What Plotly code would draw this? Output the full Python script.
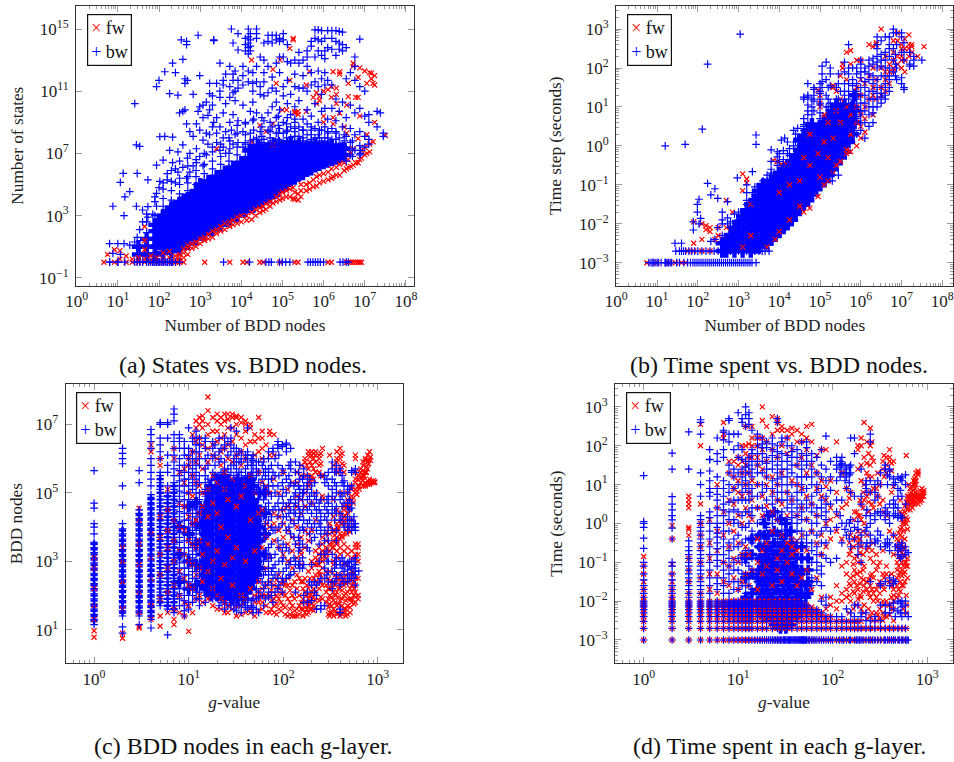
import plotly.graph_objects as go

W, H = 954, 762
RED, BLUE = "#ff0000", "#0000ff"
FONT = "Liberation Serif"

# All values below are read off the picture. Panel a and b values are log10 on both axes,
# panels c and d have the g-value on x and log10 on y. Format: (x, [y, y, ...]).

A_FW = [(0.66,[0]),(0.75,[0.5]),(0.92,[0,0.8]),(1.05,[0.2,0.75]),(1.2,[0,0.4]),(1.35,[0,0.2]),(1.5,[0,0.1,0.3]),(1.65,[0,0.2,0.8,1.4,2.3]),
(1.8,[0,0.15,0.4]),(1.95,[0,0.1,0.3]),(2.1,[0,0.2,0.6]),(2.25,[0,0.3,0.7]),(2.4,[0,0.15,0.4]),(2.5,[0,0.1,0.3,0.5]),(2.6,[0,0.3,0.6,0.85]),
(2.7,[0.5,0.9,1.1]),(2.8,[0.9,1.2]),(2.9,[1,1.3]),(3.0,[1.2,1.5]),(3.11,[0,1.4,1.6]),(3.2,[1.5,1.8]),(3.3,[1.6,2]),(3.4,[1.85,2.1,7.3]),(3.5,[2.0,2.3]),
(3.6,[2.1,2.5]),(3.72,[0,2.3,2.6]),(3.8,[2.4,2.7]),(3.9,[2.5,2.9]),(4.0,[2.6,3.0]),(4.04,[0]),(4.13,[0,2.7,3.0]),(4.25,[2.75,3.2,7.75,13]),(4.35,[3.0,3.4]),(4.45,[0,3.2,3.5,8.8]),
(4.53,[0,3.3,3.6]),(4.6,[3.4,3.75,8.4]),(4.7,[3.6,3.9]),(4.77,[3.8,7.55,8.9,12.4]),(4.85,[3.9,4.2,11.5]),(4.94,[0,4.0,4.4,13]),(5.0,[4.1,4.5,9.8]),(5.1,[4.2,4.6,9.8]),(5.18,[4.2,4.7,11.7,13.75]),
(5.26,[4.1,4.8,14.3,14.4]),(5.3,[0,4.05,4.5,9.6,9.7]),(5.38,[0,4.0,4.4,9.5,9.7]),(5.45,[4.2,4.6,5.0]),(5.58,[4.6,5.0,9.7,11.4]),(5.66,[4.7,5.1,12.25]),(5.75,[4.85,5.3,10.6]),(5.83,[4.9,5.5,10.2,10.9]),
(5.9,[5.1,5.6,10.65,10.4]),(6.0,[5.2,5.7,9.0,9.4,11]),(6.11,[0,5.3,5.8,11.1]),(6.19,[0,5.4,6.0,11.3,10.6]),(6.23,[5.5,12.25,8.9,9.3]),(6.31,[5.6,6.1,10.2,10.8,11.2]),(6.39,[5.6,6.3,12.25,12.1,9.6]),
(6.5,[5.9,6.4,8.7]),(6.56,[0,6.0,8.3,10.1]),(6.6,[0,6.1,6.6,10.65,11.5]),(6.66,[0,6.15,7.0]),(6.72,[0,6.25,7.3,12.8,12.6]),(6.78,[0,6.4,10.6]),(6.84,[0,6.4,7.95,10.6,11.9]),(6.88,[0,6.6,12.5,9.4]),
(6.92,[0,6.7,7.2]),(7.0,[6.9,7.4,12.3]),(7.05,[7.0,8.2,11.5]),(7.12,[7.1,7.6,12.2]),(7.16,[12.15,11.8]),(7.2,[7.75,11.5]),(7.24,[11.4,12.0,9.0]),(7.5,[8.15])]

A_BW = [(0.8,[0,1.2]),(0.88,[0.57,3.6]),(1.0,[0,1.2]),(1.06,[5.14,0.5]),(1.13,[5.72]),(1.15,[3.0,1.2]),(1.17,[4.2,0]),(1.29,[4.54,1.1]),(1.41,[10.2,0,1.3]),(1.45,[7.55,3.6]),(1.47,[5.72,1.6,0]),
(1.53,[7.45,2.1,0]),(1.6,[3.36,0,2.6]),(1.73,[3.57,5.3,2.9]),(1.85,[3.1,0]),(1.94,[6.25,4.43,3.6,0,11.3]),(2.0,[11.7,0,4.8]),(2.02,[8.07,5.2]),(2.1,[6.57,4.7,0]),(2.14,[8.1,12.25]),(2.2,[5.3,0,5.7]),(2.26,[10.85,7.2,0]),
(2.33,[12.8,8.05,6.4,0]),(2.4,[6.0,5.1,0,12.2]),(2.46,[10.75,5.8,7.1]),(2.5,[9.6,0,6.5]),(2.54,[14.3]),(2.58,[13.05,7.55,6.1,9.7]),(2.63,[9.8,11.8,11.5]),(2.67,[14.2,8.9,5.4,14.0]),(2.69,[11.7,6.7]),(2.75,[8.4,7.0,5.8]),
(2.83,[8.1,6.2,10.8]),(2.91,[8.9,7.3,6.4]),(2.95,[14.6,9.7]),(2.99,[12,10,8.5,6.8]),(3.07,[7.85,9.3,6.2,10.1]),(3.15,[8.3,6.9,10.3]),(3.19,[9.45,7.6]),(3.23,[11.5,10.85,8.2,9.8]),(3.3,[7.1,8.7,10.1,10.7]),(3.33,[14.25,14.3,9.0]),
(3.4,[11.5,7.7,8.3,9.3]),(3.48,[12.8,8.7,7.2,10.6,11.0]),(3.56,[11.7,11.4,8.0,9.6,7.4]),(3.62,[8.4,7.0,12.1,10.2]),(3.72,[12.6,9.0,7.8,11.3,7.3,10.6]),(3.76,[15,8.5]),(3.8,[14.1,11.7,9.5,7.6,10.9,12.1]),(3.85,[12.3,8.2,10.4,11.0]),
(3.92,[14.7,13.65,9.1,7.7,11.7,11.2]),(4.04,[12.6,8.4,7.4,10.1,11.4,12.0]),(4.1,[13.6,14.0,14.4,9.0,7.7]),(4.17,[15,14.5,14.1,13.8,12.3,13.4,11.6]),(4.22,[14.7,14.3,13.9,13.6,8.3,9.7,7.8]),(4.28,[12.2,11.5,9.1,10.3,11.0]),(4.37,[15,14.4,14.7,12.6,11.6,8.0,9.6]),(4.46,[11.3,13.2,10.8,8.4,7.6]),
(4.55,[14.1,13.0,11.6,12.2,9.1,10.7,7.9]),(4.65,[14.6,14.2,12.6,10.9,8.5,9.6,7.6]),(4.75,[14.6,14.1,11.2,11.9,8.7,10.0,7.8]),(4.85,[14.6,14.3,12.8,11.0,9.3,8.3,10.3,7.6]),(4.93,[14.4,14.2,12.2,13.2,8.6,9.8,7.8]),(5.02,[14.7,14.3,13.2,11.3,8.3,9.0,10.7,7.7]),
(5.12,[14.0,12.9,11.7,9.3,8.5,7.8,10.2]),(5.2,[12.8,10.8,8.7,8.0,9.5]),(5.3,[13.0,11.3,8.4,9.0,7.7,12.1,10.0]),(5.4,[12.8,13.5,11.2,8.7,8.1,10.4]),(5.5,[13.0,12.0,9.2,8.5,7.8,11.2]),(5.6,[13.6,13.2,12.6,11.0,8.9,8.2,9.8,7.7]),
(5.7,[14.2,13.9,11.4,8.5,9.4,7.9,12.2]),(5.79,[14.95,14.4,13.2,11.6,8.6,8.0,10.2]),(5.87,[14.95,14.3,13.6,12.3,11.3,9.0,8.2,7.6]),(5.95,[14.9,14.2,13.3,11.8,8.5,9.7,7.8,10.8]),(6.03,[14.4,13.6,13.1,12.2,11.4,8.7,8.0,7.4,9.9]),(6.1,[14.9,13.8,11.7,9.2,8.3,7.6,7.1]),
(6.2,[14.9,14.4,13.7,11.4,8.6,9.9,7.9,7.0]),(6.3,[14.9,14.2,13.3,10.5,8.4,9.1,7.6,7.2]),(6.38,[14.85,14.1,13.7,9.7,8.0,7.1,6.7]),(6.46,[14.8,14.0,13.6,10.3,8.7,7.5,6.9]),(6.55,[13.8,11.8,9.3,8.1,7.4,6.5]),(6.65,[12.2,10.1,8.6,7.7,6.9]),
(6.76,[13.2,12.6,11.7,9.6,8.2,7.2]),(6.88,[14.35,11.3,9.9,8.4,7.5,6.9]),(7.0,[11.0,9.4,8.1,7.4]),(7.1,[9.5,9.0,7.9,7.6]),(7.3,[9.7,8.7]),(7.38,[9.6]),(7.45,[8.3,8.1])]

A_BW_2 = [(1.7,[2.6,3.1,1.9]),(1.9,[3.0,3.9,4.2]),(2.1,[3.6,4.1,5.1]),(2.3,[4.0,4.6,5.2,5.9]),(2.5,[4.4,5.0,5.4]),(2.7,[4.6,5.1,5.5,6.2]),(2.9,[5.0,5.5,5.9,6.6]),(3.1,[5.3,5.7,6.3,7.0]),(3.3,[5.5,6.0,6.5,7.4]),(3.5,[5.8,6.3,6.8,7.6]),(3.7,[6.1,6.5,7.0,8.0]),
(3.9,[6.4,6.9,7.4,8.3,8.8]),(4.1,[6.7,7.1,7.6,8.2,8.9]),(4.3,[7.0,7.4,7.9,8.5,9.2]),(4.5,[7.3,7.7,8.1,8.7,9.3]),(4.7,[7.5,8.0,8.4,9.0]),(4.9,[7.5,7.9,8.3,8.8,9.4]),(5.1,[7.6,8.0,8.4,8.9]),(5.3,[7.6,8.1,8.6,9.2]),(5.5,[7.6,8.0,8.5]),(5.7,[7.7,8.2,8.7]),(5.9,[7.6,8.0,8.5]),(6.1,[7.6,8.0,8.4]),(6.3,[7.5,7.9,8.3]),(6.5,[7.4,7.8,8.2]),(6.7,[6.8,7.3,7.8]),(6.9,[7.0,7.2])]

A_BW_ROW = [0.8,1.0,1.6,1.7,1.75,1.8,1.85,1.9,1.95,2.0,2.05,2.1,2.15,2.2,2.25,2.3,3.57,4.2,4.6,4.67,4.73,4.93,5.0,5.08,5.18,5.62,5.68,5.74,5.8,5.86,5.92,6.0,6.4,6.47,6.55,6.6]

A_BW_CORE = [(1.5,[0.5,1.0]),(1.7,[0.5,1.0,1.5]),(1.9,[0.5,1.0,1.5,2.0,2.4]),(2.1,[0.6,1.0,1.5,2.0,2.5,3.0]),(2.3,[0.7,1.1,1.5,2.0,2.5,3.0,3.5]),(2.5,[0.9,1.4,1.9,2.4,2.9,3.4,3.8]),
(2.7,[1.2,1.7,2.2,2.7,3.2,3.7,4.1]),(2.9,[1.5,2.0,2.5,3.0,3.5,4.0,4.5]),(3.1,[1.8,2.3,2.8,3.3,3.8,4.3,4.8]),(3.3,[2.1,2.6,3.1,3.6,4.1,4.6,5.0]),(3.5,[2.4,2.9,3.4,3.9,4.4,4.9,5.4]),(3.7,[2.7,3.2,3.7,4.2,4.7,5.2,5.7]),
(3.9,[3.0,3.5,4.0,4.5,5.0,5.5,6.0]),(4.1,[3.3,3.8,4.3,4.8,5.3,5.8,6.3]),(4.3,[3.6,4.1,4.6,5.1,5.6,6.1,6.6]),(4.5,[3.9,4.4,4.9,5.4,5.9,6.4,6.9]),(4.7,[4.2,4.7,5.2,5.7,6.2,6.7,7.1]),(4.9,[4.6,5.1,5.6,6.1,6.6,7.1]),
(5.1,[5.0,5.5,6.0,6.5,7.0,7.3]),(5.3,[5.4,5.9,6.4,6.9,7.3]),(5.5,[5.7,6.2,6.7,7.2]),(5.7,[6.0,6.5,7.0,7.4]),(5.9,[6.3,6.8,7.3]),(6.1,[6.5,7.0,7.4]),(6.3,[6.7,7.2]),(6.5,[6.9,7.3])]

A_BW_CORE_2 = [(2.0,[1.2,1.7,2.2,2.7]),(2.2,[1.2,1.7,2.2,2.7,3.2]),(2.4,[1.2,1.7,2.2,2.7,3.2,3.6]),(2.6,[1.5,2.0,2.5,3.0,3.5,4.0]),(2.8,[1.8,2.3,2.8,3.3,3.8,4.3]),(3.0,[2.0,2.5,3.0,3.5,4.0,4.5,5.0]),(3.2,[2.2,2.7,3.2,3.7,4.2,4.7,5.2]),(3.4,[2.5,3.0,3.5,4.0,4.5,5.0,5.5]),(3.6,[2.8,3.3,3.8,4.3,4.8,5.3,5.8]),(3.8,[3.1,3.6,4.1,4.6,5.1,5.6,6.1]),(4.0,[3.4,3.9,4.4,4.9,5.4,5.9,6.4]),(4.2,[3.7,4.2,4.7,5.2,5.7,6.2,6.7,7.2]),
(4.4,[4.0,4.5,5.0,5.5,6.0,6.5,7.0,7.5]),(4.6,[4.3,4.8,5.3,5.8,6.3,6.8,7.3]),(4.8,[4.6,5.1,5.6,6.1,6.6,7.1,7.6]),(5.0,[4.9,5.4,5.9,6.4,6.9,7.4]),(5.2,[5.3,5.8,6.3,6.8,7.3,7.7]),(5.4,[5.6,6.1,6.6,7.1,7.6]),(5.6,[5.9,6.4,6.9,7.4]),(5.8,[6.2,6.7,7.2,7.6]),(6.0,[6.4,6.9,7.4]),(6.2,[6.6,7.1,7.5]),(6.4,[6.8,7.3])]

B_FW = [(0.75,[-3]),(1.0,[-3]),(1.3,[-3]),(1.45,[-3]),(1.6,[-3]),(1.7,[-3]),(1.76,[-2.7]),(1.9,[-2.7,-2.5,-1.95]),(2.1,[-2.7,-2.4,-2.0]),(2.2,[-2.15,-2.05]),(2.3,[-2.7,-2.2,-2.1]),(2.42,[-2.4]),(2.5,[-2.3,-2.1]),(2.7,[-1.4,-2.1]),(2.85,[-1.7]),
(3.1,[-0.72,-1.15,-2.6]),(3.2,[-0.95,-0.85]),(3.3,[-1.5,-2.3]),(3.7,[-2.6]),(3.9,[-2.4]),(4.0,[-2.2,-1.2]),(3.85,[-0.37]),(3.95,[-0.4]),(4.05,[-0.47]),(4.17,[-0.47]),(4.25,[-1.9,-1.0]),(4.5,[-1.55,-0.9]),(4.6,[-1.7,-0.3]),(4.75,[-1.6,0.3,-0.5]),(4.95,[-1.3,-0.2,1.43]),
(5.0,[1.3,1.1,1.0,-0.8]),(5.1,[-1.0,0.1,0.8]),(5.2,[-0.9,-0.3,0.6]),(5.32,[1.5,1.55,-0.7,0.2]),(5.4,[1.4,-0.5,0.9]),(5.5,[-0.4,0.6,1.2,1.8]),(5.55,[2.1,2.0]),(5.65,[-0.2,-0.1,1.0,2.4,1.7]),(5.75,[-0.15,0.3,0.8,2.45,2.1]),(5.9,[0.0,0.6,1.5,2.2,1.0]),(6.0,[0.2,1.3,0.5,2.2,1.7,0.8]),
(6.1,[0.35,1.0,1.6,0.7]),(6.2,[2.6,1.8,1.2]),(6.3,[2.55,0.8,1.5,2.0,1.3]),(6.38,[2.6,2.65,1.2,1.7]),(6.5,[3.0,2.0,1.3,1.5]),(6.6,[1.4,1.7,2.3,1.9]),(6.7,[1.6,1.9,2.1]),(6.8,[2.2,2.4,2.0,1.9,2.7]),(6.9,[2.1,2.7,2.9,2.3]),(7.0,[2.3,2.5,2.6,2.2,2.0]),(7.08,[2.5,2.2,1.9,2.75]),
(7.18,[2.85,2.5,2.3,2.6]),(7.25,[2.6,2.4,2.55]),(7.55,[2.55]),(7.4,[2.3])]

B_BW = [(0.8,[-3]),(0.9,[-3]),(1.0,[-3]),(1.2,[0.0,-3]),(1.69,[0.04]),(2.11,[0.43]),(2.24,[2.1,-0.96]),(3.04,[2.87]),(3.43,[0.28,0.04]),(2.97,[-0.82]),(3.34,[-0.66,-1.2,-1.4]),(2.42,[-1.1,-2.4]),(2.32,[-1.26,-2.45]),(2.49,[-1.35,-2.1]),(2.73,[-1.43,-1.85,-2.0]),
(2.03,[-1.37,-2.0]),(1.99,[-1.5,-1.7]),(2.07,[-1.86]),(1.89,[-1.95,-2.16]),(1.44,[-2.5]),(1.6,[-2.5,-2.7]),(1.46,[-2.7]),(1.65,[-2.7]),(1.78,[-2.7]),(1.92,[-2.7]),(2.6,[-2.0,-2.3,-1.9,-1.7]),(2.9,[-1.75,-2.2]),(3.2,[-1.0,-1.5]),(3.4,[-1.05,-1.5,-1.25]),(3.55,[-1.1,-1.3]),
(3.7,[-1.0,-0.9,-0.75]),(3.8,[-0.1,-0.4,-0.7]),(3.95,[-0.15,-0.28,-0.5]),(4.1,[-0.12,-0.5,-0.35]),(4.05,[0.15]),(4.13,[0.2]),(4.25,[-0.07,-0.25]),(4.35,[0.4,0.0,-0.3]),(4.45,[0.45,0.2,-0.1]),(4.6,[0.55,1.2,1.25,0.4]),(4.7,[1.25,1.3,0.8,1.05,0.9,1.6,0.6]),(4.85,[1.3,1.45,1.5,0.9,1.15]),(5.0,[1.6,1.05,0.7,1.35,1.2]),
(5.05,[2.05,1.85,1.65,1.5]),(5.15,[1.7,1.3,2.15,1.0]),(5.25,[1.55,1.85,1.1,2.0]),(5.3,[-0.75,-0.9]),(5.45,[1.85,1.6,1.2,-0.75]),(5.6,[2.15,1.6,1.9,1.4,0.1]),(5.7,[1.85,2.0,2.6,1.2,0.6]),(5.8,[2.0,1.55,1.3,0.9,0.4]),(5.9,[1.85,1.4,1.0,0.3,0.7]),(6.0,[2.2,1.5,1.9,1.1,0.9,0.4]),
(6.1,[2.0,1.3,1.65,0.9,0.2]),(6.2,[1.7,2.2,1.2,0.8,0.5]),(6.3,[2.25,1.8,1.4,1.0,0.6]),(6.4,[1.5,2.3,2.0,1.2,2.8,2.6,2.5]),(6.5,[2.7,2.2,1.8,1.1,1.35]),(6.6,[2.8,2.4,2.0,1.5,1.3]),(6.7,[1.7,2.3,2.8,2.5,1.4]),(6.8,[3.0,2.9,2.5,1.9,2.2]),(6.88,[2.9,2.6,2.0,1.7]),(7.0,[2.8,2.9,2.4,1.75,1.6]),
(7.06,[2.65,2.2,2.4,1.5,1.45]),(7.2,[2.4,2.05,2.1]),(7.3,[2.2,2.3,2.05]),(7.5,[2.2])]

B_BW_2 = [(2.8,[-2.3,-2.1,-1.95]),(3.0,[-2.0,-1.9,-1.7]),(3.2,[-1.7,-1.4,-1.2]),(3.4,[-1.6,-1.3]),(3.6,[-1.2,-0.9]),(3.8,[-0.9,-0.6]),(4.0,[-0.7,-0.4,-0.2]),(4.2,[-0.5,-0.2,0.1]),(4.4,[-0.2,0.1,0.3]),(4.6,[0.2,0.5,0.7]),(4.8,[0.5,0.8,1.0,1.2]),(5.0,[0.5,0.85,1.1,1.4]),(5.2,[0.7,1.0,1.2,1.5]),
(5.4,[0.6,0.9,1.2,1.5]),(5.5,[0.1,0.5,1.1,1.4]),(5.6,[0.3,0.7,1.05,1.3]),(5.7,[0.4,0.9,1.4,1.6]),(5.8,[0.65,1.1,1.7]),(5.9,[0.75,1.2,1.6,2.0]),(6.0,[0.6,0.8,1.3,1.75,2.1]),(6.1,[0.6,1.1,1.5,1.9]),(6.2,[1.0,1.4,1.85,2.05]),(6.3,[0.85,1.2,1.6,2.1]),(6.4,[1.0,1.35,1.7,2.15]),(6.5,[1.25,1.5,2.05,2.35]),(6.6,[1.2,1.6,1.8,2.2]),(6.7,[1.5,1.8,2.0,2.6]),(6.85,[1.8,2.1,2.35])]

B_BW_ROW_3 = [0.85,0.9,0.95,1.03,1.1,1.2,1.24,1.28,1.32,1.36,1.48,1.55,1.66,1.75,1.82,1.88,1.93,1.98,2.03,2.08,2.13,2.18,2.23,2.28,2.33,2.38,2.43,2.48,2.53,2.58,2.63,2.68,2.73,2.78,2.83,2.88,2.93,2.98,3.03,3.08,3.13,3.18,3.23,3.28,3.33,3.43]
B_BW_ROW_27 = [1.55,1.7,1.85,2.0,2.1,2.2,2.3,2.4,2.5,2.6,2.7,2.8,2.9,3.0,3.1,3.2,3.3,3.4,3.5,3.58,3.65,3.75]

B_BW_CORE = [(2.7,[-2.7,-2.4]),(2.9,[-2.7,-2.4,-2.1]),(3.1,[-2.7,-2.4,-2.1,-1.8]),(3.3,[-2.7,-2.4,-2.1,-1.8,-1.5]),(3.5,[-2.6,-2.3,-2.0,-1.7,-1.4,-1.15]),(3.7,[-2.5,-2.2,-1.9,-1.6,-1.3,-1.05]),(3.9,[-2.3,-2.0,-1.7,-1.4,-1.1,-0.8]),(4.1,[-2.1,-1.8,-1.5,-1.2,-0.9,-0.6]),
(4.3,[-1.9,-1.6,-1.3,-1.0,-0.7,-0.4]),(4.5,[-1.6,-1.3,-1.0,-0.7,-0.4,-0.1,0.15]),(4.7,[-1.4,-1.1,-0.8,-0.5,-0.2,0.1,0.4]),(4.9,[-1.1,-0.8,-0.5,-0.2,0.1,0.4]),(5.1,[-0.9,-0.6,-0.3,0,0.3,0.6]),(5.3,[-0.6,-0.3,0,0.3,0.6,0.9]),(5.5,[-0.3,0,0.3,0.6,0.9]),(5.7,[0.1,0.4,0.8]),(5.85,[0.6,0.9,1.3])]

B_BW_CORE_2 = [(2.6,[-2.7,-2.5]),(2.8,[-2.6,-2.3]),(3.0,[-2.55,-2.25,-1.95]),(3.2,[-2.55,-2.25,-1.95,-1.65]),(3.4,[-2.6,-2.3,-2.0,-1.7,-1.4]),(3.6,[-2.45,-2.15,-1.85,-1.55,-1.25,-1.0]),(3.8,[-2.4,-2.1,-1.8,-1.5,-1.2,-0.9]),(4.0,[-2.2,-1.9,-1.6,-1.3,-1.0,-0.7]),(4.2,[-2.0,-1.7,-1.4,-1.1,-0.8,-0.5]),(4.4,[-1.75,-1.45,-1.15,-0.85,-0.55,-0.25]),(4.6,[-1.5,-1.2,-0.9,-0.6,-0.3,0,0.25]),(4.8,[-1.25,-0.95,-0.65,-0.35,-0.05,0.25,0.55]),(5.0,[-1.0,-0.7,-0.4,-0.1,0.2,0.5]),(5.2,[-0.75,-0.45,-0.15,0.15,0.45,0.75]),(5.4,[-0.45,-0.15,0.15,0.45,0.75,1.05]),(5.6,[-0.15,0.15,0.45,0.75,1.05]),(5.8,[0.3,0.6,1.0])]

LOW = [-3,-2.7,-2.52,-2.4,-2.3,-2.22,-2.15,-2.1,-2.05,-2]

C_FW = [(1,[0.78,0.97,1.3,1.7,2.2,2.8,3.1]),(2,[0.75,0.9,1.6,2.4,3.0,3.4]),(3,[1.05,1.1,1.5,2.1,2.9,3.5,4.2,4.55]),(4,[1.3,1.7,2.5,3.1,3.8,6.2,6.4]),(5,[1.1,1.4,1.9,2.6,3.2,3.7,4.3,5.8,6.0]),(6,[1.5,2.1,2.8,3.4,3.9,4.5,5.1]),(7,[1.15,1.3,1.6,2.3,3.0,3.6,4.2,6.0,6.3]),
(8,[1.5,2.0,2.7,3.3,4.0,4.7,5.6]),(9,[1.4,1.8,2.5,3.2,3.9,4.6,5.3,5.7]),(10,[0.95,1.7,2.3,3.0,3.6,4.3,5.0,5.8,6.0]),(11,[1.5,2.2,2.9,3.5,4.1,4.9,5.5,6.2,6.7]),(12,[1.9,2.6,3.4,4.2,5.3,5.9,6.5,6.9,7.1]),(13,[2.0,2.8,3.6,4.4,5.2,6.1,6.6,7.0,7.2]),(14,[1.8,2.4,3.2,4.6,5.0,5.7,6.4,6.9,7.1,7.25]),
(16,[1.9,2.7,3.5,4.3,5.1,5.9,6.3,6.7,7.0,7.4,7.8]),(18,[1.7,2.2,3.0,4.7,5.5,6.1,6.4,6.8,7.2]),(20,[1.6,2.0,3.3,4.4,5.3,6.0,6.5,6.8,7.1,7.3]),(22,[1.6,1.9,2.5,4.0,5.8,6.2,6.6,7.0,7.2]),(24,[1.5,1.8,2.9,5.1,5.6,6.3,6.7,7.1,7.3]),(26,[1.5,1.7,3.7,4.8,6.0,6.4,6.9,7.15,7.3]),
(29,[1.6,2.3,3.1,5.4,5.9,6.5,6.9,7.2,7.3]),(32,[1.4,1.7,3.4,4.6,6.1,6.7,7.0,7.2,7.25]),(36,[1.45,1.7,2.0,4.9,5.8,6.2,6.6,7.05,7.2]),(40,[1.5,1.9,3.0,5.2,6.0,6.4,6.8,7.0,7.1]),(45,[1.5,1.6,2.2,4.2,5.5,6.5,6.9,7.0]),(50,[1.4,1.8,2.0,3.3,5.0,6.1,6.5,6.7]),(55,[1.55,1.8,2.1,1.95,2.4,4.4,5.6,6.2,6.6,7.2]),
(60,[1.6,1.8,2.0,2.2,3.4,4.5,5.3,6.0,6.3,6.6,6.8]),(66,[1.5,1.7,2.0,2.3,2.8,3.7,4.1,5.2,6.4]),(72,[1.5,2.0,2.4,3.1,4.0,5.0,6.1,6.7,6.8]),(80,[1.5,1.7,1.9,2.3,3.6,4.1,4.4,5.4,6.1,6.7]),(90,[1.6,1.9,2.2,2.6,3.4,3.9,4.3,5.0]),(100,[1.7,2.1,2.4,3.2,3.7,4.1,4.5,5.6]),(112,[1.4,1.9,2.3,2.5,3.0,3.5,3.9,4.6,5.1]),
(125,[1.4,1.7,2.0,2.3,2.8,3.3,3.7,4.2,5.3]),(140,[1.4,1.6,2.2,2.6,3.1,3.5,4.0,4.6,4.9,5.3,5.6]),(155,[1.6,1.8,2.4,2.9,3.2,3.3,3.7,4.4,4.8,5.5,5.8]),(170,[1.5,1.65,2.1,2.5,3.4,3.9,4.6,5.0,5.9,6.0]),(185,[1.5,1.7,1.9,2.2,2.7,3.6,3.8,5.2,5.7,6.1,6.2]),(200,[1.6,1.75,1.9,2.1,2.8,3.0,3.9,4.7,5.5,5.8,6.1,6.2,5.4]),
(220,[1.65,1.85,2.1,2.4,2.6,2.9,3.1,3.3,4.2,5.0,5.6,5.9,6.1,6.2]),(240,[1.85,2.2,2.6,2.7,2.9,3.2,3.4,5.6,5.8,6.0,6.1]),(260,[1.9,2.3,2.8,3.0,3.3,3.5,3.7,4.8,4.9,6.3,5.5]),(285,[1.8,2.1,2.3,2.7,3.1,3.4,3.6,3.8]),(310,[1.4,1.5,1.75,2.0,2.2,2.4,2.7,3.3,3.5,3.8,4.0,4.1,6.1]),(340,[1.4,1.6,1.85,2.1,2.4,2.9,3.0,3.4,3.6,3.9,4.3,4.8,5.8]),
(370,[1.45,1.7,2.1,2.5,3.1,3.3,3.5,3.7,3.9,4.1,4.5,5.6,5.9,6.0,6.2]),(400,[1.4,1.85,2.3,2.6,3.2,3.4,3.65,3.8,4.4,5.0,5.7,6.0,6.3,6.1]),(440,[1.5,1.6,2.0,2.3,2.5,2.9,3.3,3.5,3.8,4.1,4.3,4.5,4.6,5.6,5.8]),(480,[1.45,1.7,1.9,2.1,2.4,2.9,3.2,3.4,4.4,4.6,4.8,5.0]),(530,[1.8,1.9,2.1,2.3,2.6,2.7,3.1,3.3,4.2,4.8,4.9,5.1,5.2]),
(580,[1.8,1.95,2.1,2.3,2.5,3.1,3.2,3.4,3.5,5.0,5.1,5.3,5.4,6.0,6.1,5.6]),(620,[1.9,2.0,2.5,3.0,3.2,3.4,3.5,5.2,5.4,5.5]),(660,[5.3,5.45,5.6,5.7]),(700,[5.2,5.5,5.65,5.8,5.9]),(740,[5.2,5.3,5.6,5.95,6.0]),(780,[5.25,5.35,5.7,5.9,6.1]),(820,[5.25,5.3,5.4,6.2]),(860,[5.3,5.35]),(900,[5.3,5.35]),(930,[5.3,5.32])]

C_FW_2 = [(230,[2.9,3.05]),(260,[3.1,3.2]),(290,[3.2,3.35]),(330,[3.4,3.5]),(350,[3.76,3.9]),(370,[3.55,3.6]),(380,[3.95,4.0]),(410,[4.1,4.2]),(420,[3.7,3.75]),(450,[4.2,4.35]),(470,[3.8,3.9]),(500,[4.5,4.6]),(510,[3.85,4.0]),(550,[4.7,4.85]),(600,[4.95,5.05]),(640,[5.1,5.2]),(690,[5.35,5.45]),(720,[5.5,5.6]),(760,[5.6,5.75]),(800,[5.85,5.95]),(840,[5.95,6.05]),
(75,[1.6,1.85,2.15]),(85,[1.45,1.75,2.0,2.45]),(95,[1.55,1.8,2.05,2.35]),(105,[1.45,1.65,2.0,2.3]),(118,[1.45,1.6,1.8,2.15]),(132,[1.4,1.55,1.9,2.4]),(148,[1.45,1.7,2.0,2.5]),(162,[1.4,1.6,1.9,2.2,2.4]),(178,[1.45,1.6,1.8,2.0,2.3,5.5,5.8]),(192,[1.6,1.8,2.0,2.5,5.3,5.9,6.05]),(210,[1.55,1.7,1.95,2.2,2.5,5.4,5.7,6.0,6.15]),(250,[1.95,2.4,2.6,5.5,5.85,6.15]),
(300,[1.45,1.65,1.9,2.2,2.5]),(325,[1.5,1.7,1.95,2.2,2.35]),(355,[1.55,1.8,2.0,2.3,2.6]),(385,[1.5,1.75,1.95,2.2,2.45]),(420,[1.45,1.7,1.9,2.15,2.4,5.85,6.15]),(460,[1.4,1.6,1.85,2.05,2.35,2.6]),(510,[1.5,1.65,1.9,2.2,2.45]),(560,[1.75,2.0,2.2,2.4,2.65])]

C_BW = [(1,[1.15,1.3,1.45,1.6,1.75,1.9,2.05,2.2,2.35,2.5,2.65,2.8,2.95,3.1,3.25,3.4,3.55,3.8,4.0,4.1,4.55,4.7,5.65]),
(2,[0.9,1.08,1.4,1.55,1.7,1.85,2.0,2.15,2.3,2.45,2.6,2.75,2.9,3.05,3.2,3.35,3.5,3.65,3.8,3.95,4.1,4.64,5.2,5.85,6.0,6.15,6.3]),
(3,[1.15,1.4,1.55,1.7,1.85,2.0,2.15,2.3,2.45,2.6,2.75,2.9,3.05,3.2,3.35,3.5,3.65,3.8,3.95,4.1,4.25,4.4,4.5,5.3,5.65]),
(4,[1.05,1.3,1.5,1.65,1.8,1.95,2.1,2.25,2.4,2.55,2.7,2.85,3.0,3.15,3.3,3.45,3.6,3.75,3.9,4.05,4.2,4.35,4.5,4.65,4.8,4.95,5.2,5.4,5.6,5.8,6.0,6.3,6.5,6.7,6.85]),
(5,[1.7,1.9,2.1,2.3,2.5,2.7,2.9,3.1,3.3,3.5,3.7,3.9,4.1,4.3,4.5,4.7,4.9,5.1,5.3,5.5,5.6,6.0,6.2,6.4,6.6,7.0,7.05]),
(6,[0.85,1.6,1.8,2.0,2.2,2.4,2.6,2.8,3.0,3.2,3.4,3.6,3.8,4.0,4.2,4.4,4.6,4.8,5.0,5.2,5.6,5.8,6.1,6.6,7.0,7.05]),
(7,[1.5,1.7,1.9,2.1,2.3,2.5,2.7,2.9,3.1,3.3,3.5,3.7,3.9,4.1,4.3,4.5,4.7,4.9,5.1,5.3,5.5,5.7,5.9,6.1,6.3,6.5,6.7,7.1,7.3,7.45]),
(8,[1.9,2.2,2.5,2.8,3.1,3.4,3.7,4.0,4.3,4.6,4.9,5.2,5.5,5.8,6.5,6.6,6.7,6.3]),(9,[1.4,1.7,2.0,2.4,2.8,3.2,3.6,4.0,4.4,4.8,5.2,5.6,6.1,6.5]),
(10,[1.8,2.2,2.6,3.0,3.4,3.8,4.2,4.6,5.0,5.4,5.8,6.0,6.1,6.9]),(11,[2.0,2.5,2.9,3.3,3.7,4.1,4.5,5.1,5.5,5.9,6.2,6.5,6.6]),(12,[1.9,2.3,2.7,3.2,3.8,4.6,5.0,5.6,6.2,6.4,6.6,6.8]),(13,[1.7,2.1,2.6,3.0,3.6,4.3,4.8,5.3,5.8,6.4,6.6]),(15,[2.0,2.5,3.1,3.7,4.4,4.9,5.3,5.7,6.3,6.5,6.6]),
(18,[1.9,2.2,2.9,4.3,5.0,5.6,6.0,6.3,6.5]),(21,[1.7,2.0,2.7,4.8,5.4,5.9,6.2,6.6]),(24,[1.6,1.8,2.2,5.1,5.7,5.9,6.4,6.6,6.3]),(28,[1.7,1.9,5.3,5.6,5.8,6.2,6.4,6.6,6.9]),(32,[1.55,1.75,2.0,5.4,5.7,5.9,6.1,6.3,6.8]),(36,[1.5,1.7,2.0,5.4,5.6,5.9,6.0,6.2]),(42,[1.6,1.7,1.9,5.2,5.5,5.8,5.9,6.1,6.2,6.9]),
(48,[1.65,1.5,1.9,5.0,5.4,5.6,5.8,5.95,6.1]),(55,[1.5,1.95,2.1,2.5,4.8,5.0,5.3,5.6,5.9]),(62,[1.7,2.2,2.6,3.0,4.3,4.8,5.2,5.6,5.9,6.0]),(70,[1.95,2.4,2.8,3.1,4.5,5.0,5.4,5.7,6.2]),(78,[1.8,2.5,2.8,3.9,4.5,5.2,5.6,6.2,6.3]),(88,[2.2,2.5,3.6,4.3,4.7,5.2,5.8,6.3,6.4,6.5]),(98,[2.1,2.5,3.0,3.3,4.1,4.5,4.9,5.3,5.7,6.35,6.4]),
(108,[2.5,2.8,3.4,3.9,4.3,4.6,5.0,5.4,6.2,6.4,6.45]),(120,[2.6,3.0,3.8,4.2,4.5,4.8,5.3,5.7,5.9,6.3]),(135,[2.1,2.9,3.0,3.5,4.4,4.7,5.0,5.3,5.6,5.9]),(150,[2.8,3.0,3.4,3.6,3.9,4.3,4.5,4.9,5.1,5.4,5.8]),(165,[1.8,2.0,2.9,3.9,4.2,4.6,5.0,5.2,5.5,5.7]),(180,[1.8,2.1,3.4,4.1,4.5,4.8,5.1,5.3,5.5]),
(200,[1.85,2.3,2.9,3.6,4.0,4.4,4.7,5.0,5.2]),(225,[1.6,2.0,2.3,3.9,4.3,4.5,4.8,5.0]),(250,[1.6,1.7,2.5,3.2,3.8,4.0,4.2,4.4,4.8,5.5]),(275,[1.7,2.5,2.8,3.2,3.6,3.9,4.3,4.6,5.3,5.5]),(300,[2.4,2.7,3.0,3.6,4.0,4.4,4.7,4.9,5.2,5.6]),(330,[2.2,2.4,2.7,3.2,3.9,4.4,4.6,4.9,5.1,5.4,5.7,5.9]),(365,[2.5,2.6,2.9,3.1,3.6,3.9,4.4,4.6,5.0,5.2,5.6,5.8]),
(400,[1.5,1.6,2.3,2.6,2.9,3.0,4.2,4.4,4.8,5.0,5.6,5.7]),(440,[2.4,2.7,2.9,3.0,4.0,4.1,4.7,5.0,5.2,5.35]),(480,[2.4,2.6,2.75,2.95,3.9,4.1,4.3,4.6,4.7,5.0,5.2]),(530,[2.5,2.65,2.8,3.0,3.9,4.0,4.2,4.55,4.7,5.2,5.6,5.65]),(580,[2.3,2.6,2.7,2.9,3.1,3.9,4.0,4.1,5.6,5.7]),(630,[2.72])]

C_BW_2 = [(8,[1.7,2.05,2.35,2.65,2.95,3.25,3.55,3.85,4.15,4.45,4.75,5.05,5.35,5.65,6.0]),(9,[1.55,1.85,2.2,2.6,3.0,3.4,3.8,4.2,4.6,5.0,5.4,5.8,6.3]),(10,[1.6,2.0,2.4,2.8,3.2,3.6,4.0,4.4,4.8,5.2,5.6,6.3]),(11,[1.8,2.2,2.7,3.1,3.5,3.9,4.3,4.7,5.3,5.7,6.0]),(12,[2.1,2.5,2.9,3.4,3.6,4.0,4.4,4.8,5.2,5.4,5.8,6.0]),
(13,[1.9,2.3,2.8,3.3,3.9,4.1,4.5,5.0,5.5,6.0,6.2]),(15,[1.8,2.3,2.8,3.4,4.0,4.6,5.1,5.5,6.0]),(16,[2.1,2.6,5.4,5.8,6.1]),(19,[2.0,5.2,5.5,5.8,6.1,6.4]),(22,[1.8,5.0,5.3,5.6,6.0,6.3]),(26,[1.7,5.4,5.7,6.1,6.5]),(30,[1.6,1.8,5.5,5.8,6.0,6.3]),(34,[1.7,5.6,5.9,6.2]),(40,[1.65,1.8,5.5,5.7,6.0,6.1]),(46,[1.7,1.85,5.3,5.6,5.8,6.0]),(52,[1.6,1.9,2.2,5.1,5.5,5.7,5.9]),
(60,[2.0,2.4,2.8,3.2,3.6,4.0,4.4,5.0,5.4,5.8]),(65,[1.9,2.3,2.7,3.3,3.7,4.1,4.6,5.1,5.5,5.7]),(70,[2.1,2.6,3.0,3.4,3.8,4.2,4.7,5.2,5.6,6.0]),(75,[2.0,2.3,2.7,3.1,3.5,4.0,4.3,4.9,5.4,5.8]),(82,[2.1,2.6,2.9,3.2,3.9,4.6,5.0,5.5,6.0]),(90,[2.3,2.7,3.0,3.4,4.0,4.5,4.9,5.5,6.1]),(100,[2.4,2.7,3.1,3.5,4.3,4.7,5.1,5.6]),(115,[2.6,2.9,3.3,4.0,4.4,4.7,5.2,5.5,5.8]),(130,[2.7,3.1,3.7,4.1,4.4,4.6,4.9,5.2]),(145,[2.9,3.3,3.7,4.2,4.6,4.8,5.2,5.6]),
(160,[2.8,3.1,3.5,4.0,4.4,4.8,5.0,5.4]),(190,[2.4,3.3,3.8,4.2,4.6,4.9,5.4]),(215,[2.1,2.4,3.7,4.1,4.6,4.9,5.3]),(240,[2.4,3.0,3.5,4.1,4.5,4.7]),(290,[2.6,3.0,3.3,3.8,4.2,4.5,4.8,5.4]),(350,[2.4,2.8,3.0,4.2,4.5,4.8,5.3,5.6]),(420,[2.5,2.8,3.1,4.3,4.6,4.9,5.3,5.5]),(500,[2.5,2.85,3.0,4.0,4.2,4.5,4.8,5.1]),(560,[2.5,2.8,3.0,4.0,4.1,4.3])]

C_BW_CORE = [(14,[2.4,2.8,3.2,3.6,4.0,4.4]),(17,[2.0,2.4,2.8,3.2,3.6,4.0,4.4,4.8,5.2]),(20,[2.0,2.4,2.8,3.2,3.6,4.0,4.4,4.8,5.2]),(24,[1.9,2.3,2.7,3.1,3.5,3.9,4.3,4.7,5.1,5.5]),(28,[1.9,2.2,2.6,3.0,3.4,3.8,4.2,4.6,5.0]),
(33,[1.9,2.2,2.6,3.0,3.4,3.8,4.2,4.6,5.0,5.4]),(38,[1.9,2.3,2.7,3.1,3.5,3.9,4.3,4.7,5.1]),(45,[2.2,2.6,3.0,3.4,3.8,4.2,4.6,5.0,5.4]),(52,[2.6,3.0,3.4,3.8,4.2,4.6]),(8,[2.4,3.2,4.0])]

C_BW_CORE_2 = [(10,[2.2,3.0,3.8,4.6]),(12,[2.3,2.9,3.5,4.1,4.7]),(15,[2.2,2.6,3.0,3.4,3.8,4.2,4.6]),(16,[2.2,2.6,3.0,3.4,3.8,4.2,4.6,5.0]),(18,[2.2,2.6,3.0,3.4,3.8,4.2,4.6,5.0]),(20,[2.2,2.6,3.0,3.4,3.8,4.2,4.6,5.0,5.4]),(22,[2.1,2.5,2.9,3.3,3.7,4.1,4.5,4.9,5.3]),(24,[2.1,2.5,2.9,3.3,3.7,4.1,4.5,4.9,5.3]),(26,[2.1,2.5,2.9,3.3,3.7,4.1,4.5,4.9,5.3]),(28,[2.05,2.4,2.8,3.2,3.6,4.0,4.4,4.8,5.2]),
(30,[2.0,2.4,2.8,3.2,3.6,4.0,4.4,4.8,5.2]),(33,[2.05,2.4,2.8,3.2,3.6,4.0,4.4,4.8,5.2]),(35,[2.0,2.4,2.8,3.2,3.6,4.0,4.4,4.8,5.2]),(38,[2.1,2.5,2.9,3.3,3.7,4.1,4.5,4.9,5.3]),(41,[2.1,2.5,2.9,3.3,3.7,4.1,4.5,4.9,5.3]),(48,[2.4,2.8,3.2,3.6,4.0,4.4,4.8,5.2]),(56,[2.8,3.2,3.6,4.0,4.4,5.0]),(64,[3.2,3.8,4.4,5.0])]

C_BW_STRIP = [(1,[1.25,1.4,1.55,1.7,1.85,2.0,2.15,2.3,2.45,2.6,2.75,2.9,3.05,3.2,3.35,3.5]),(2,[1.5,1.65,1.8,1.95,2.1,2.25,2.4,2.55,2.7,2.85,3.0,3.15,3.3,3.45,3.6,3.75,3.9]),(3,[1.5,1.65,1.8,1.95,2.1,2.25,2.4,2.55,2.7,2.85,3.0,3.15,3.3,3.45,3.6,3.75,3.9,4.05,4.2,4.35]),(4,[1.4,1.55,1.7,1.85,2.0,2.15,2.3,2.45,2.6,2.75,2.9,3.05,3.2,3.35,3.5,3.65,3.8,3.95,4.1,4.25,4.4,4.55,4.7,4.85]),
(5,[1.8,2.0,2.2,2.4,2.6,2.8,3.0,3.2,3.4,3.6,3.8,4.0,4.2,4.4,4.6,4.8,5.0,5.2,5.4]),(6,[1.7,1.9,2.1,2.3,2.5,2.7,2.9,3.1,3.3,3.5,3.7,3.9,4.1,4.3,4.5,4.7,4.9]),(7,[1.6,1.8,2.0,2.2,2.4,2.6,2.8,3.0,3.2,3.4,3.6,3.8,4.0,4.2,4.4,4.6,4.8,5.0,5.2])]

D_FW = [(1,LOW+[-1.9,-1.7,-1.5,-1.3,-1.1,-0.85]),(2,LOW+[-1.9,-1.7,-1.5,-1.3,-1.05,-0.4,-0.05]),(3,LOW+[-1.8,-1.5,-1.2,-0.9,-0.3,-0.1,-0.15,0.4,0.5,0.6,0.7]),(4,LOW+[-1.8,-1.4,-1,-0.6,-0.3,0.0,0.5,2.0,2.55]),(5,LOW+[-1.7,-1.3,-0.9,-0.5,0.1]),(6,LOW+[-1.8,-1.3,-0.7,-0.2,0.4,1.0]),(7,LOW+[-1.5,-1.0,-0.3,0.3,2.2,2.6,2.3]),
(8,LOW+[-1.6,-1.1,-0.6,0,0.6,1.3,1.6]),(9,LOW+[-1.4,-0.9,-0.2,0.5,1.2,1.6,0.9]),(10,LOW+[-1.7,-1.0,-0.5,0.2,0.8,1.1,1.5,1.7]),(11,LOW+[-1.5,-0.8,0.0,0.7,1.3,1.6,2.0]),(12,LOW+[-1.3,-0.6,0.4,1.0,1.5,1.8,2.0,2.5]),(13,LOW+[-1.6,-0.8,0.2,0.8,1.3,2.05,1.7]),(14,LOW+[-1.2,0.1,0.6,1.1,1.7,2.0,2.5,2.2]),
(16,LOW+[-1.7,-1.0,-0.4,0.4,1.0,1.5,2.0,2.2,1.7]),(18,LOW+[-1.3,-0.7,0.2,0.7,1.4,1.9,2.2,2.65,3.0]),(20,LOW+[-1.1,-0.5,0.45,1.0,1.6,2.1,2.5,1.2]),(23,LOW+[-1.6,-0.2,0.3,0.8,1.2,1.9,2.3,2.75]),(26,LOW+[-1.2,-0.9,0.1,0.6,1.0,1.7,2.4,2.7,2.6]),(29,LOW+[-1.5,-0.3,-0.7,0.5,1.3,2.0,2.5,2.4]),(33,LOW+[-1.0,-0.5,0.2,0.8,1.8,2.2,2.4]),
(37,LOW+[-1.3,-0.8,-0.4,-0.6,0.6,1.1,1.9,2.3,2.45]),(42,LOW+[-1.6,-0.45,-0.7,0.2,1.0,1.5,2.1,2.4]),(47,LOW[:8]+[-1.4,-0.3,0.4,0.9,1.7,2.1,2.3]),(53,LOW[:8]+[-1.2,-0.7,0.1,0.7,1.3,1.9,2.2,2.5]),(60,LOW[:7]+[-1.7,-0.2,0.5,1.5,2.1,2.55]),(68,LOW[:6]+[-1.4,-0.5,0.2,0.9,1.3,1.75]),
(76,LOW[:5]+[-1.9,-0.8,-0.3,0.7,1.1,1.9]),(85,LOW[:4]+[-2.2,-0.6,0.0,0.6,0.95,1.9]),(95,LOW[:4]+[-2.1,-1.9,-0.4,0.1,0.4,1.1]),(110,LOW[:3]+[-2.2,-2.0,-1.6,-0.2,0.2,0.8,2.1]),(125,LOW[:3]+[-2.0,-1.8,-1.1,-0.4,0.4,1.3]),(140,LOW[:3]+[-1.9,-1.7,-1.3,-1.0,0.5,0.9]),(155,LOW[:3]+[-2.0,-1.6,-1.4,-0.7,-0.3,0.8]),
(170,LOW[:3]+[-1.8,-1.5,-1.2,-0.9,-0.4,0.3,0.1]),(185,LOW[:3]+[-1.95,-1.7,-1.0,-0.5,-0.2,0.2,1.4,2.0,1.9]),(200,LOW[:3]+[-2.2,-1.9,-1.4,-1.0,-0.6,0.1,0.5,1.1,1.5,2.2,2.0]),(215,LOW[:2]+[-2.3,-2.1,-1.6,-1.1,0.0,0.6,1.0,1.7,2.6]),(230,LOW[:2]+[-2.45,-1.7,-1.5,-0.7,-0.3,0.7,1.3,1.55,2.1]),(250,LOW[:2]+[-2.4,-1.9,-1.6,-1.35,-0.9,0.8,1.5,2.0,2.45]),
(270,LOW[:2]+[-2.5,-2.0,-1.8,-1.4,-1.0,-0.5,0.4,0.9,1.6]),(290,LOW[:2]+[-2.5,-2.3,-1.9,-1.7,-1.2,-0.8,0.9]),(315,LOW[:2]+[-2.45,-2.2,-1.8,-1.5,-1.0,0.5,1.0]),(340,LOW[:2]+[-2.5,-2.3,-2.0,-1.6,-1.3,-0.7,0.6,1.6,1.4]),(370,LOW[:2]+[-2.4,-2.0,-1.3,-1.1,0.2,1.7,1.5,1.3]),(400,LOW[:2]+[-2.35,-2.1,-1.5,-0.2,1.9,1.6,1.7]),
(440,LOW[:2]+[-2.5,-2.2,-2.0,-1.85,-1.7,-1.5,-0.8,-0.3,0.95,1.6]),(480,LOW[:2]+[-1.9,-1.6,-1.4,-1.2,-1.0,-0.6,-0.4]),(520,LOW[:2]+[-1.75,-1.5,-1.25,-0.9,-0.7,-0.5,-0.3,-0.15,0.3,0.6]),(560,LOW[:2]+[-2.2,-1.6,-1.3,-1.1,-0.8,-0.6,-0.2,0.0,0.05,0.2]),(600,LOW[:2]+[-2.3,-2.1,-1.85,-1.1,-1.0,0.0,0.15,0.4,0.55,1.75]),(640,[0.5,0.55,0.65,0.7,1.0]),
(680,[0.5,0.65,0.7,0.8]),(720,[0.55,0.6,0.7,0.85,1.0,1.1]),(760,[0.55,0.65,0.7,0.8,1.3,1.2,1.1,1.0]),(800,[0.5,0.6,0.7,0.75,1.25,1.3,1.35]),(840,[0.55,0.6,0.7,0.85]),(880,[0.6,0.7,0.8,0.9]),(920,[0.7,0.8,0.85])]

D_FW_2 = [(500,[-1.85,-1.7,-1.35,-1.1,-0.85,-0.65,-0.45,-0.25]),(540,[-1.6,-1.35,-1.2,-1.0,-0.75,-0.55,-0.35,-0.1,0.1,0.25]),(580,[-1.5,-1.25,-1.0,-0.85,-0.65,-0.4,0.1,0.3,0.45]),(620,[-1.4,-1.1,-0.9,-0.15,0.1,0.35,0.55,0.7]),(660,[0.35,0.45,0.6,0.75,0.9]),(700,[0.4,0.55,0.75,0.95]),(740,[0.5,0.7,0.9,1.05,1.15]),
(150,[-2.3,-1.85,-1.55,-0.8,-0.5,0.65]),(165,[-2.2,-1.75,-1.35,-1.05,-0.6]),(180,[-2.1,-1.6,-1.3,-0.85,-0.35,0.3]),(195,[-1.85,-1.55,-1.25,-0.75,-0.4,0.2,0.6]),(210,[-1.75,-1.45,-1.2,-0.8,-0.2,0.4,0.8]),(240,[-2.2,-1.8,-1.45,-0.6,0.3,0.55,1.2,1.8]),(260,[-2.3,-1.7,-1.3,-0.7,0.5,1.2,1.7,2.1]),(300,[-2.35,-2.0,-1.6,-1.1,0.7,1.3]),(350,[-2.4,-2.1,-1.7,-1.4,0.3,1.2,1.75]),(420,[-2.2,-1.9,-1.6,-1.3,0.8,1.35,1.55])]

D_BW = [(1,LOW+[-1.9,-1.8,-1.7,-1.6,-1.45,-1.3,-1.1,-1.0,-0.64,-0.38,-0.1,0.0,0.05,1.23]),(2,LOW+[-1.9,-1.8,-1.7,-1.6,-1.45,-1.3,-1.1,-1.0,-0.4,-0.12,0.09,0.2,0.35,0.5,0.69,1.4,1.81]),(3,LOW+[-1.9,-1.8,-1.7,-1.6,-1.5,-1.4,-1.3,-1.2,-1.1,-1,-0.9,-0.8,-0.7,-0.6,-0.45,1.4,2.36]),
(4,LOW+[-1.9,-1.8,-1.7,-1.6,-1.5,-1.4,-1.3,-1.2,-1.1,-1,-0.9,-0.8,-0.7,-0.6,-0.5,-0.4,-0.3,-0.2,-0.1,0.0,0.1,0.2,0.7,1.0,1.3,2.3,2.6,2.67]),(5,LOW+[-1.8,-1.6,-1.4,-1.2,-1,-0.8,-0.6,-0.4,-0.2,0,0.15,0.3,0.7,0.8,0.9,1.1,1.35,1.64,1.9,1.65]),(6,LOW+[-1.7,-1.4,-1.1,-0.8,-0.5,-0.25,0.0,0.2,0.6,0.9,1.6,1.8,2.2]),(7,LOW+[-1.8,-1.4,-1.0,-0.6,-0.2,0.2,0.5,0.9,1.7,1.9,2.15,2.35,2.4]),
(8,LOW+[-1.5,-1.1,-0.7,-0.2,0.3,0.8,1.5,2.1,2.3,2.65,2.7]),(9,LOW+[-1.7,-1.2,-0.6,0.1,0.6,1.2,1.9,2.3]),(10,LOW+[-1.5,-0.9,-0.3,0.3,1.0,2.3,2.85]),(11,LOW+[-1.3,-0.8,-0.1,0.6,1.0,1.4,1.9,2.7,2.6]),(12,LOW+[-1.6,-1.0,-0.4,0.3,0.9,1.3,1.6,2.5,2.8,3.0]),(13,LOW+[-1.4,-0.7,0.0,0.8,1.0,1.7,2.55,2.7,2.85]),(14,LOW+[-1.2,-0.5,0.2,0.7,1.2,1.6,1.9,2.4]),
(16,LOW+[-1.5,-0.9,-0.3,0.4,1.0,1.6,1.8,2.2,2.3]),(18,LOW+[-1.2,-0.6,0.1,0.8,1.3,1.8,2.2,1.95]),(20,LOW+[-1.0,-0.4,0.3,0.9,1.4,1.7,2.1]),(23,LOW+[-0.8,-0.3,0.2,0.7,1.1,1.6,1.9,2.2]),(26,LOW+[-0.6,-0.2,0.1,0.6,1.0,1.3,1.7,2.0,2.7,2.6]),(29,LOW+[-0.4,0.0,0.3,0.8,1.2,1.6,2.1,2.2]),(33,LOW+[-0.3,0.1,0.6,1.0,1.4,1.75,2.2]),
(37,LOW+[-0.4,0.0,0.3,0.7,1.3,1.7,2.0]),(42,LOW+[-0.2,0.2,0.6,1.0,1.5,1.9]),(47,LOW+[-0.4,0.1,0.5,1.2,1.4,1.8,2.1]),(53,LOW[:8]+[-1.3,-0.6,-0.3,0.4,0.9,1.5,1.95,2.1,1.6]),(60,LOW[:6]+[-1.4,-1.0,-0.2,0.3,0.7,1.2,1.6,1.8]),(68,LOW[:6]+[-1.2,-0.8,-0.3,0.2,1.0,1.3,1.7]),(76,LOW[:5]+[-1.6,-1.1,-0.5,0.4,0.9,1.2,1.5,1.9]),(85,LOW[:4]+[-2.1,-1.9,-0.9,0.1,0.7,1.1,1.4,2.25]),
(95,LOW[:4]+[-1.0,-0.2,0.5,0.85,1.2,1.6]),(110,LOW[:4]+[-0.9,-0.1,0.3,0.6,1.1,1.4,1.5,1.7]),(125,LOW[:3]+[-2.4,-0.5,0.0,0.6,1.3,1.5,1.7,1.55]),(140,LOW[:3]+[-2.2,-0.3,0.0,0.9,1.2,1.4,1.3]),(155,LOW[:3]+[-2.3,-0.6,-0.2,0.1,0.8,1.3,1.5,2.2]),(170,LOW[:3]+[-2.4,-2.1,-0.4,-0.1,0.7,1.8,2.2]),(185,LOW[:3]+[-2.1,-0.8,-0.6,-0.15,0.05]),
(200,LOW[:2]+[-2.4,-2.3,-1.0,-0.5,-0.3,0.5,0.7,1.4]),(225,LOW[:2]+[-2.5,-2.3,-0.6,-0.2,0.2,0.9,1.0,1.1]),(250,LOW[:2]+[-2.5,-1.5,-0.5,-0.3,0.0,0.2,0.8,1.1,2.3,2.1]),(280,LOW[:2]+[-2.5,-2.4,-0.5,-0.4,0.1,0.25,0.6,0.8,1.0]),(320,LOW[:2]+[-2.5,-2.1,-1.6,-1.55,-0.6,-0.3,0.2,0.3,1.0,1.3]),(360,LOW[:2]+[-2.3,-2.1,-1.5,-0.6,-0.5,0.4,0.25,0.1,1.4,1.5]),
(400,LOW[:2]+[-2.3,-2.1,-1.6,-1.4,-0.5,-0.7,0.0,0.2,0.5,1.2,1.35,1.4]),(440,LOW[:2]+[-2.2,-2.05,-1.55,-1.45,-0.3,0.2,0.4,0.6,1.0,1.15]),(490,LOW[:2]+[-2.25,-2.0,-0.8,-0.7,-0.55,0.15,0.2,0.4,0.7,0.9,1.2]),(540,LOW[:2]+[-2.15,-2.0,-2.4,-0.85,-0.6,-0.5,0.15,0.15,0.7,1.1,1.2]),(590,LOW[:2]+[-2.3,-2.1,-2.0,-0.8,-0.7,-0.6,0.5,1.0,1.25]),(630,[-3,-2.4,-0.75])]

D_BW_2 = [(6,[-1.55,-0.95,-0.65,-0.35,-0.1,0.4,0.75,1.2]),(7,[-1.6,-1.2,-0.8,-0.4,0,0.35,0.7,1.1]),(8,[-1.8,-1.3,-0.9,-0.5,0.1,0.55,1.0,1.3]),(9,[-1.5,-1,-0.4,0,0.35,0.9,1.4]),(10,[-1.7,-1.2,-0.6,0,0.6,1.3,1.7,2.0]),(11,[-1.6,-1,-0.5,0.2,0.8,1.2,1.65]),(12,[-1.8,-1.3,-0.7,-0.1,0.6,1.1,1.45]),(13,[-1.6,-1.1,-0.4,0.3,0.6,1.3,1.5]),(14,[-1.7,-0.9,-0.2,0.4,0.9,1.4,1.8]),(16,[-1.2,-0.6,0,0.7,1.3,1.5,2.0]),(18,[-0.9,-0.3,0.4,1.0,1.6,2.05]),(20,[-0.7,-0.1,0.6,1.2,1.55,1.95]),
(23,[-0.5,0,0.5,0.9,1.4,1.75,2.05]),(26,[-0.4,0.3,0.8,1.15,1.5,1.85]),(29,[-0.2,0.15,0.6,1.0,1.4,1.8]),(33,[-0.15,0.4,0.8,1.2,1.6,2.0]),(37,[-0.2,0.15,0.5,1.0,1.5,1.85]),(42,[-1.1,-0.5,0,0.4,0.8,1.2,1.7]),(47,[-1.2,-0.6,-0.2,0.3,0.8,1.0,1.6]),(53,[-1.5,-0.9,-0.5,0.1,0.6,1.2,1.75]),(60,[-1.6,-0.7,-0.5,0.0,0.5,1.0,1.4]),(68,[-1.5,-1.0,-0.6,0.0,0.4,0.8]),(76,[-2.0,-1.3,-0.8,-0.2,0.2,0.6]),(85,[-0.5,-0.1,0.3,0.5]),
(120,[1.2,1.45,1.6,0.2]),(135,[1.1,1.3,1.5,-0.15]),(150,[1.05,1.25,1.45,0.0,-0.4]),(230,[-0.5,-0.1,0.35,0.8]),(300,[-0.45,-0.2,0.3,0.7,1.1]),(380,[-0.55,-0.4,0.3,1.25,1.0]),(460,[-2.4,-1.5,-0.6,0.25,0.5,1.05]),(520,[-2.3,-2.05,-0.9,-0.65,0.2,0.85,1.15])]

D_BOTTOM_ROW = [15,17,19,21,22,24,25,27,28,30,31,32,34,35,36,38,39,40,41,43,44,45,46,48,49,50,51,52,55,57,62,65,72,80,90,100,118,130,150,178,192,210,240,265,300,350,380,420,460,510,555,610]

D_BW_CORE = [(16,[-2.0,-1.7,-1.4]),(18,[-2.3,-2.0,-1.7,-1.4,-1.1]),(20,[-2.3,-2.0,-1.7,-1.4,-1.1,-0.8]),(23,[-2.5,-2.2,-1.9,-1.6,-1.3,-1.0,-0.7]),(26,[-2.6,-2.3,-2.0,-1.7,-1.4,-1.1,-0.8]),(30,[-2.6,-2.3,-2.0,-1.7,-1.4,-1.1,-0.8,-0.5]),(34,[-2.5,-2.2,-1.9,-1.6,-1.3,-1.0,-0.7]),(39,[-2.3,-2.0,-1.7,-1.4,-1.1,-0.8]),(45,[-2.2,-1.9,-1.6,-1.3]),(52,[-1.9,-1.6])]

D_BW_CORE_2 = [(12,[-1.9,-1.4,-0.9]),(14,[-1.8,-1.3,-0.8,-0.4]),(17,[-2.1,-1.8,-1.5,-1.2,-0.9,-0.6,-0.3]),(19,[-2.4,-2.1,-1.8,-1.5,-1.2,-0.9,-0.6,-0.3,0.0]),(21,[-2.4,-2.1,-1.8,-1.5,-1.2,-0.9,-0.6,-0.3,0.2]),(24,[-2.6,-2.3,-2.0,-1.7,-1.4,-1.1,-0.8,-0.5,-0.2,0.3]),(28,[-2.7,-2.4,-2.1,-1.8,-1.5,-1.2,-0.9,-0.6,-0.3,0.1]),(32,[-2.7,-2.4,-2.1,-1.8,-1.5,-1.2,-0.9,-0.6,-0.3,0.0]),(36,[-2.6,-2.3,-2.0,-1.7,-1.4,-1.1,-0.8,-0.5,-0.2]),(41,[-2.4,-2.1,-1.8,-1.5,-1.2,-0.9,-0.6]),(47,[-2.1,-1.8,-1.5,-1.2,-0.9,-0.6]),(55,[-1.8,-1.5,-1.2,-0.9])]

XTICKS_AB = [0, 1, 2, 3, 4, 5, 6, 7, 8]
YTICKS_A = [-1, 3, 7, 11, 15]
YTICKS_B = [-3, -2, -1, 0, 1, 2, 3]
XTICKS_CD = [0, 1, 2, 3]
YTICKS_C = [1, 3, 5, 7]
YTICKS_D = [-3, -2, -1, 0, 1, 2, 3]
CAPTIONS = ["(a) States vs. BDD nodes.", "(b) Time spent vs. BDD nodes.", "(c) BDD nodes in each g-layer.", "(d) Time spent in each g-layer."]
XTITLES = ["Number of BDD nodes", "Number of BDD nodes", "<i>g</i>-value", "<i>g</i>-value"]
YTITLES = ["Number of states", "Time step (seconds)", "BDD nodes", "Time (seconds)"]


def expand(rows, log_x=True):
    xs, ys = [], []
    for x, column in rows:
        for y in column:
            xs.append(10 ** x if log_x else x)
            ys.append(10 ** y)
    return xs, ys


def row(xvals, y, log_x=True):
    return [(10 ** x if log_x else x) for x in xvals], [10 ** y] * len(xvals)


def label(e):
    return f"10<sup>{str(e).replace('-', '−')}</sup>"


# pixel boxes: left, right, top, bottom
BOXES = [(76.3, 413.7, 5.7, 285.7), (616.3, 953.3, 5.7, 285.7), (65.7, 402.7, 384, 663.3), (615.3, 952.7, 384, 663.3)]
XR = [(-0.01, 8.19), (0, 8.27), (-0.3, 3.264), (-0.3, 3.27)]
YR = [(-1.51, 16.5), (-3.59, 3.6), (0.018, 8.18), (-3.6, 3.59)]
XT = [XTICKS_AB, XTICKS_AB, XTICKS_CD, XTICKS_CD]
YT = [YTICKS_A, YTICKS_B, YTICKS_C, YTICKS_D]
YMINOR = [False, True, False, True]
LEG = [(86.7, 14.3), (626.7, 14.3), (76.3, 392.3), (626, 392.3)]
CAPX = [243, 779, 243, 779]
CAPY = [365, 365, 746, 746]
YSTAND = [11, 13, 8, 11]
CORE_SIZE = [11, 11, 10, 9]

fw_xy = [expand(A_FW), expand(B_FW), expand(C_FW + C_FW_2, False), expand(D_FW + D_FW_2, False)]
core_xy = [expand(A_BW_CORE + A_BW_CORE_2), expand(B_BW_CORE + B_BW_CORE_2), expand(C_BW_CORE + C_BW_CORE_2, False), expand(D_BW_CORE + D_BW_CORE_2, False)]
bw_xy = [expand(A_BW + A_BW_2), expand(B_BW + B_BW_2), expand(C_BW + C_BW_2, False), expand(D_BW + D_BW_2, False)]
for extra, i in [(row(A_BW_ROW, 0), 0), (row(B_BW_ROW_3, -3), 1), (row(B_BW_ROW_27, -2.7), 1), (row(D_BOTTOM_ROW, -3, False), 3)]:
    bw_xy[i] = (bw_xy[i][0] + extra[0], bw_xy[i][1] + extra[1])
strip_xy = expand(C_BW_STRIP, False)

fig = go.Figure()
layout = {}
annotations = []
TICK = dict(family=FONT, size=17, color="#222222")
TITLE = dict(family=FONT, size=17.3, color="#222222")
for i in range(4):
    n = "" if i == 0 else str(i + 1)
    l, r, t, b = BOXES[i]
    minor = dict(dtick="D1", ticks="inside", ticklen=3, tickcolor="#999999", tickwidth=1)
    common = dict(type="log", tickmode="array", ticks="inside", ticklen=6, tickcolor="#999999", tickwidth=1,
                  showline=True, linecolor="#333333", linewidth=1.3, mirror="allticks", showgrid=False, zeroline=False, tickfont=TICK)
    layout[f"xaxis{n}"] = dict(domain=[l / W, r / W], range=list(XR[i]), anchor=f"y{n}",
        tickvals=[10 ** e for e in XT[i]], ticktext=[label(e) for e in XT[i]], minor=minor,
        title=dict(text=XTITLES[i], font=TITLE, standoff=8), **common)
    ydict = dict(domain=[1 - b / H, 1 - t / H], range=list(YR[i]), anchor=f"x{n}", ticklabelstandoff=3,
        tickvals=[10 ** e for e in YT[i]], ticktext=[label(e) for e in YT[i]],
        title=dict(text=YTITLES[i], font=TITLE, standoff=YSTAND[i]), **common)
    if YMINOR[i]:
        ydict["minor"] = minor
    layout[f"yaxis{n}"] = ydict
    xa, ya = f"x{n}", f"y{n}"
    fig.add_trace(go.Scatter(x=core_xy[i][0], y=core_xy[i][1], mode="markers", xaxis=xa, yaxis=ya, showlegend=False,
                             marker=dict(symbol="cross", size=CORE_SIZE[i], color=BLUE, line=dict(width=0)), hoverinfo="skip"))
    if i == 2:
        fig.add_trace(go.Scatter(x=strip_xy[0], y=strip_xy[1], mode="markers", xaxis=xa, yaxis=ya, showlegend=False,
                                 marker=dict(symbol="cross", size=6, color=BLUE, line=dict(width=0)), hoverinfo="skip"))
    fig.add_trace(go.Scatter(x=fw_xy[i][0], y=fw_xy[i][1], mode="markers", name="fw", xaxis=xa, yaxis=ya, showlegend=False,
                             marker=dict(symbol="x-thin", size=5, line=dict(color=RED, width=1.2))))
    fig.add_trace(go.Scatter(x=bw_xy[i][0], y=bw_xy[i][1], mode="markers", name="bw", xaxis=xa, yaxis=ya, showlegend=False,
                             marker=dict(symbol="cross-thin", size=5.5, line=dict(color=BLUE, width=1.2))))
    annotations.append(dict(text=f"<span style='color:{RED}'>×</span> fw<br><span style='color:{BLUE}'>+</span> bw",
                            x=LEG[i][0] / W, y=1 - LEG[i][1] / H, xref="paper", yref="paper", xanchor="left", yanchor="top", align="left",
                            showarrow=False, bgcolor="white", bordercolor="#111111", borderwidth=1.2, borderpad=3,
                            font=dict(family=FONT, size=18, color="#111111")))
    annotations.append(dict(text=CAPTIONS[i], x=CAPX[i] / W, y=1 - CAPY[i] / H, xref="paper", yref="paper", xanchor="center", yanchor="middle",
                            showarrow=False, font=dict(family=FONT, size=24, color="#111111")))

fig.update_layout(width=W, height=H, autosize=False, margin=dict(l=0, r=0, t=0, b=0, autoexpand=False), paper_bgcolor="white", plot_bgcolor="white",
                  annotations=annotations, **layout)
fig.write_html("out.html", config={"displayModeBar": False},
               post_script="document.body.style.margin='0';document.documentElement.style.overflow='hidden';")
